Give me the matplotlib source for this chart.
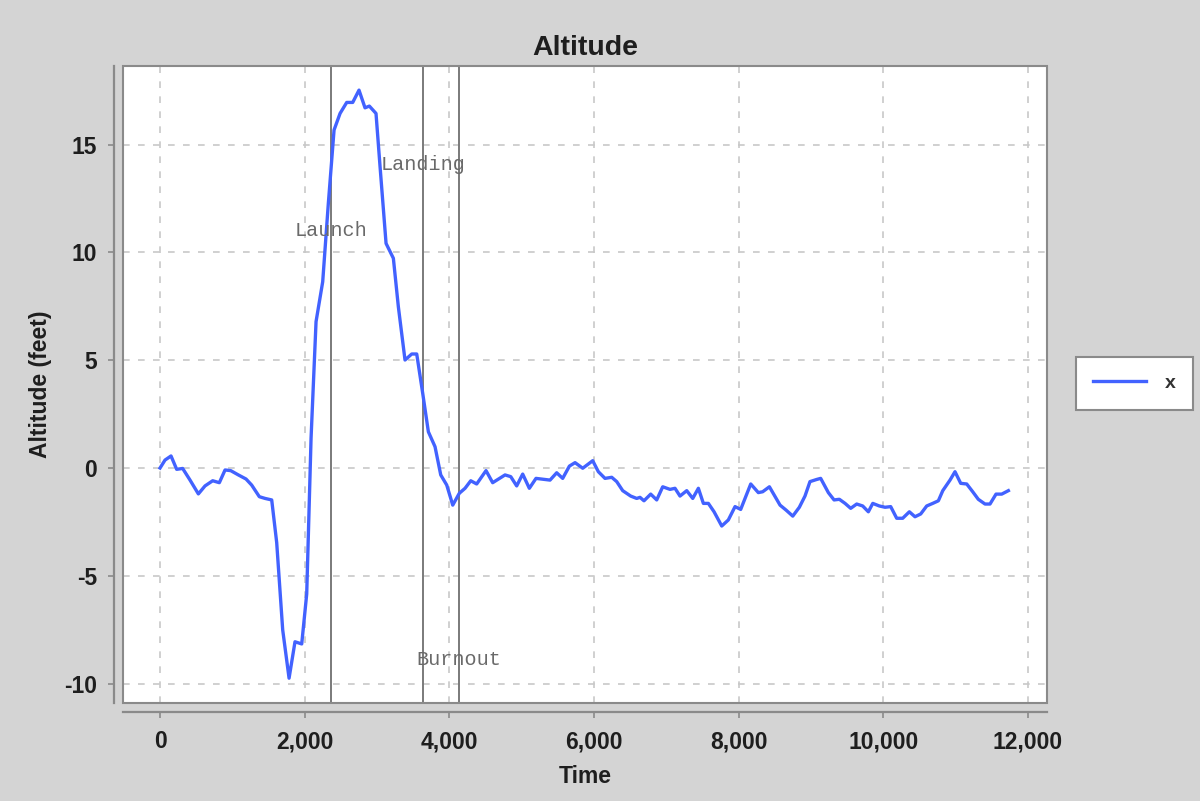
import matplotlib
matplotlib.use("Agg")
import matplotlib.pyplot as plt
from matplotlib.patches import Rectangle
from matplotlib.ticker import FuncFormatter, MultipleLocator

# Altitude trace (time in ms, altitude in feet)
time_ms = [
    0, 69, 152, 230, 313, 415, 530, 622, 728, 820,
    899, 977, 1083, 1189, 1267, 1373, 1452, 1544, 1613, 1696,
    1784, 1866, 1959, 2028, 2088, 2157, 2249, 2327, 2406, 2489,
    2581, 2664, 2751, 2834, 2894, 2986, 3042, 3125, 3226, 3295,
    3387, 3480, 3549, 3632, 3710, 3802, 3881, 3964, 4047, 4138,
    4217, 4296, 4378, 4507, 4599, 4770, 4849, 4931, 5014, 5106,
    5198, 5392, 5484, 5567, 5660, 5738, 5844, 5982, 6060, 6152,
    6245, 6314, 6397, 6507, 6590, 6636, 6691, 6784, 6867, 6950,
    7051, 7120, 7189, 7282, 7365, 7443, 7512, 7581, 7660, 7766,
    7857, 7950, 8028, 8167, 8272, 8332, 8425, 8572, 8655, 8748,
    8839, 8917, 8986, 9079, 9134, 9240, 9319, 9392, 9471, 9549,
    9632, 9715, 9793, 9854, 9945, 10024, 10102, 10185, 10268, 10360,
    10438, 10517, 10600, 10683, 10761, 10822, 10922, 10991, 11070, 11153,
    11236, 11313, 11406, 11475, 11558, 11637, 11729,
]
altitude_ft = [
    0.0, 0.37, 0.56, -0.06, -0.02, -0.56, -1.2, -0.83, -0.59, -0.68,
    -0.09, -0.12, -0.32, -0.51, -0.79, -1.33, -1.41, -1.48, -3.46, -7.51,
    -9.75, -8.06, -8.16, -5.84, 1.38, 6.79, 8.64, 12.28, 15.68, 16.45,
    16.96, 16.96, 17.53, 16.71, 16.79, 16.45, 13.98, 10.42, 9.73, 7.48,
    5.01, 5.29, 5.29, 3.46, 1.68, 0.99, -0.32, -0.79, -1.72, -1.17,
    -0.94, -0.59, -0.74, -0.12, -0.68, -0.32, -0.40, -0.83, -0.28, -0.94,
    -0.48, -0.56, -0.22, -0.48, 0.09, 0.25, -0.01, 0.34, -0.17, -0.48,
    -0.43, -0.63, -1.05, -1.30, -1.41, -1.36, -1.52, -1.21, -1.48, -0.87,
    -0.99, -0.94, -1.30, -1.05, -1.41, -0.94, -1.64, -1.64, -2.03, -2.69,
    -2.41, -1.79, -1.92, -0.74, -1.14, -1.10, -0.87, -1.72, -1.95, -2.23,
    -1.82, -1.30, -0.63, -0.53, -0.48, -1.14, -1.48, -1.45, -1.64, -1.87,
    -1.67, -1.76, -2.03, -1.64, -1.76, -1.82, -1.79, -2.33, -2.33, -2.03,
    -2.26, -2.13, -1.76, -1.64, -1.52, -1.05, -0.56, -0.17, -0.71, -0.74,
    -1.10, -1.45, -1.67, -1.67, -1.21, -1.21, -1.05,
]

# Event markers
event_names = ["Launch", "Landing", "Burnout"]
event_times = [2360, 3632, 4134]
event_label_y = [11.0, 14.1, -8.9]

bg = "#d4d4d4"
axis_gray = "#8a8a8a"
line_blue = "#4262ff"

plt.rcParams["font.family"] = ["Liberation Sans", "DejaVu Sans"]

fig = plt.figure(figsize=(12, 8.01), dpi=100, facecolor=bg)
ax = fig.add_axes([123 / 1200, 1 - 703 / 801, 924 / 1200, 637 / 801])
ax.set_facecolor("white")

ax.plot(time_ms, altitude_ft, color=line_blue, lw=2.4, label="x", zorder=3)

for name, t, ly in zip(event_names, event_times, event_label_y):
    ax.axvline(t, color="#7a7a7a", lw=1.4, zorder=2)
    ax.text(t, ly, name, ha="center", va="center", fontsize=14.5,
            family="Liberation Mono", color="#6a6a6a", zorder=4)

ax.set_xlim(-512, 12263)
ax.set_ylim(-10.9, 18.65)
ax.xaxis.set_major_locator(MultipleLocator(2000))
ax.yaxis.set_major_locator(MultipleLocator(5))
ax.xaxis.set_major_formatter(FuncFormatter(lambda v, p: f"{int(v):,}"))
ax.yaxis.set_major_formatter(FuncFormatter(lambda v, p: f"{int(v)}"))

ax.grid(True, color="#c8c8c8", lw=1.2, linestyle=(0, (4, 5)))
ax.set_axisbelow(True)

# plot frame plus offset axis lines
for s in ["top", "right"]:
    ax.spines[s].set_visible(False)
ax.add_patch(Rectangle((0, 0), 1, 1, transform=ax.transAxes, fill=False,
                       ec=axis_gray, lw=1.5, clip_on=False, zorder=5))
for s in ["left", "bottom"]:
    ax.spines[s].set_position(("outward", 6.5))
    ax.spines[s].set_color(axis_gray)
    ax.spines[s].set_linewidth(1.6)

ax.tick_params(axis="both", direction="out", length=4, width=1.2,
               color=axis_gray, labelsize=16.5, labelcolor="#1e1e1e")
ax.tick_params(axis="x", pad=9)
ax.tick_params(axis="y", pad=8)
for lbl in ax.get_xticklabels() + ax.get_yticklabels():
    lbl.set_fontweight("bold")

ax.set_title("Altitude", fontsize=20.5, fontweight="bold", color="#1e1e1e", pad=8)
ax.set_xlabel("Time", fontsize=16.5, fontweight="bold", color="#1e1e1e")
ax.set_ylabel("Altitude (feet)", fontsize=16.5, fontweight="bold", color="#1e1e1e")
ax.xaxis.set_label_coords(0.5, -0.1146)
ax.xaxis.label.set_va("center")
ax.yaxis.set_label_coords(-0.0898, 0.5)
ax.yaxis.label.set_va("center")

leg = fig.legend(loc="center", bbox_to_anchor=(1134.5 / 1200, 1 - 383.5 / 801),
                 fontsize=14, frameon=True, fancybox=False, framealpha=1,
                 facecolor="white", handlelength=2.7,
                 borderpad=0.9, handletextpad=1.0)
leg.get_frame().set_edgecolor(axis_gray)
leg.get_frame().set_linewidth(1.5)
for t in leg.get_texts():
    t.set_color("#333333")
    t.set_fontweight("bold")

fig.savefig("out.png", dpi=100, facecolor=bg)
